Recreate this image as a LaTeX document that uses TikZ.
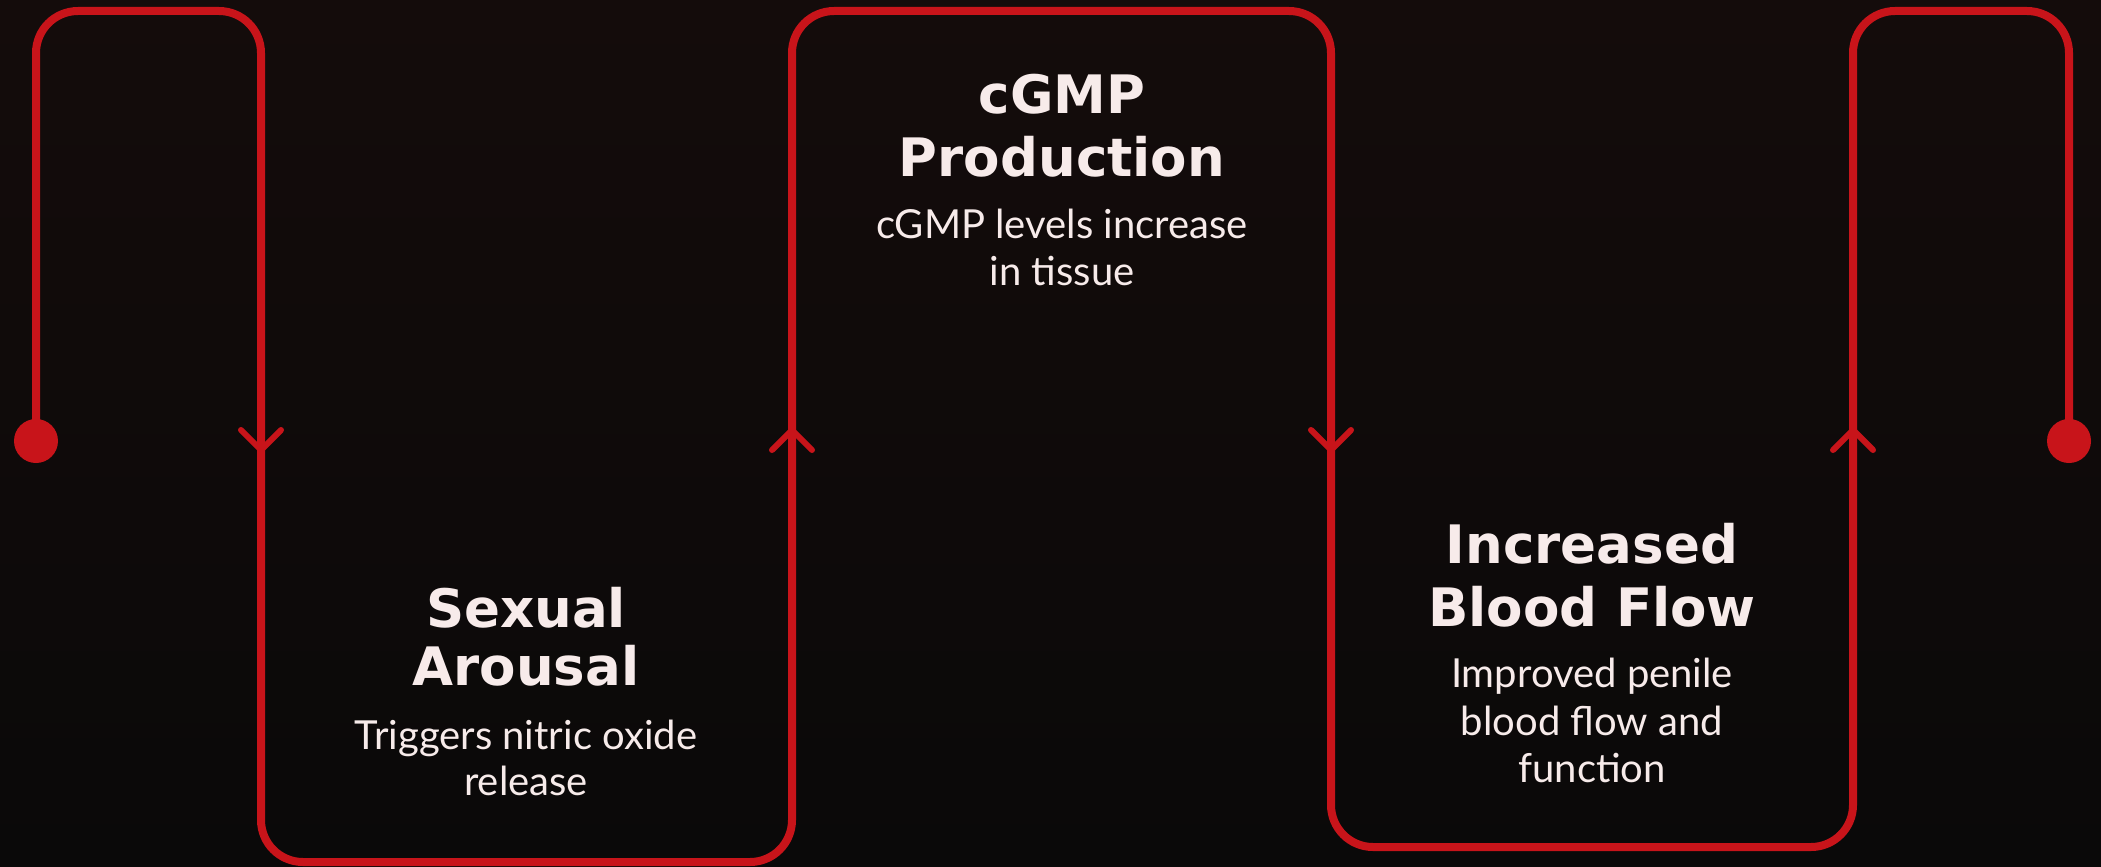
\documentclass[tikz,border=0pt]{standalone}
\usepackage{fontspec}
\setmainfont{DejaVu Sans}
\newfontfamily\subfont{Lato}
\definecolor{redline}{HTML}{C8141A}
\definecolor{ink}{HTML}{F7EBEA}
\definecolor{bgtop}{HTML}{140C0B}
\definecolor{bgbot}{HTML}{0A0909}
\tikzset{
  flow/.style={draw=redline, line width=8pt, rounded corners=42pt},
  chev/.style={draw=redline, line width=6pt, line cap=round, line join=round},
  dotend/.style={fill=redline},
  titletext/.style={anchor=base, inner sep=0pt, text=ink, font=\bfseries\fontsize{53}{60}\selectfont},
  subtext/.style={anchor=base, inner sep=0pt, text=ink, font=\subfont\fontsize{40}{47}\selectfont},
}
\begin{document}
\begin{tikzpicture}[x=1pt,y=-1pt]
\shade[top color=bgtop, bottom color=bgbot] (0,0) rectangle (2101,867);
\useasboundingbox (0,0) rectangle (2101,867);

% path coordinates
\coordinate (start) at (36,441);
\coordinate (a1) at (36,11);
\coordinate (a2) at (261,11);
\coordinate (a3) at (261,862);
\coordinate (a4) at (792,862);
\coordinate (a5) at (792,11);
\coordinate (a6) at (1331,11);
\coordinate (a7) at (1331,847);
\coordinate (a8) at (1853,847);
\coordinate (a9) at (1853,11);
\coordinate (a10) at (2069,11);
\coordinate (finish) at (2069,441);

\draw[flow] (start) -- (a1) -- (a2) -- (a3) -- (a4) -- (a5) -- (a6) -- (a7) -- (a8) -- (a9) -- (a10) -- (finish);
\fill[dotend] (start) circle (22pt);
\fill[dotend] (finish) circle (22pt);

% chevrons
\coordinate (ch1) at (261,450);
\coordinate (ch2) at (792,430);
\coordinate (ch3) at (1331,450);
\coordinate (ch4) at (1853,430);
\draw[chev] ([shift={(-20,-20)}]ch1) -- (ch1) -- ([shift={(20,-20)}]ch1);
\draw[chev] ([shift={(-20,20)}]ch2) -- (ch2) -- ([shift={(20,20)}]ch2);
\draw[chev] ([shift={(-20,-20)}]ch3) -- (ch3) -- ([shift={(20,-20)}]ch3);
\draw[chev] ([shift={(-20,20)}]ch4) -- (ch4) -- ([shift={(20,20)}]ch4);

% box 1
\node[titletext] (t1a) at (526,627) {Sexual};
\node[titletext] (t1b) at (526,685) {Arousal};
\node[subtext] (s1a) at (526,749) {Triggers nitric oxide};
\node[subtext] (s1b) at (526,795) {release};
% box 2
\node[titletext] (t2a) at (1062,113) {cGMP};
\node[titletext] (t2b) at (1062,176) {Production};
\node[subtext] (s2a) at (1062,238) {cGMP levels increase};
\node[subtext] (s2b) at (1062,285) {in tissue};
% box 3
\node[titletext] (t3a) at (1592,563) {Increased};
\node[titletext] (t3b) at (1592,626) {Blood Flow};
\node[subtext] (s3a) at (1592,687) {Improved penile};
\node[subtext] (s3b) at (1592,735) {blood flow and};
\node[subtext] (s3c) at (1592,782) {function};
\end{tikzpicture}
\end{document}
